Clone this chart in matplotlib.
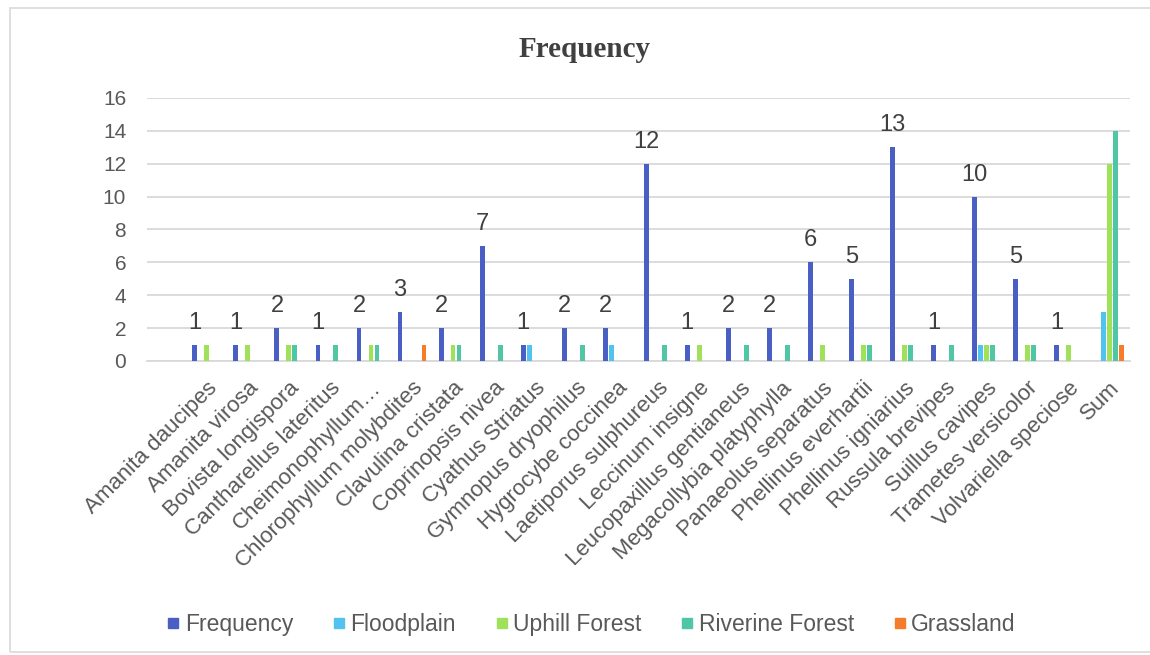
import numpy as np
import matplotlib

matplotlib.use("Agg")
import matplotlib.pyplot as plt
from matplotlib.lines import Line2D
from matplotlib.patches import Rectangle

# data
species = [
    "Amanita daucipes", "Amanita virosa", "Bovista longispora",
    "Cantharellus lateritus", "Cheimonophyllum\u2026", "Chlorophyllum molybdites",
    "Clavulina cristata", "Coprinopsis nivea", "Cyathus Striatus",
    "Gymnopus dryophilus", "Hygrocybe coccinea", "Laetiporus sulphureus",
    "Leccinum insigne", "Leucopaxillus gentianeus", "Megacollybia platyphylla",
    "Panaeolus separatus", "Phellinus everhartii", "Phellinus igniarius",
    "Russula brevipes", "Suillus cavipes", "Trametes versicolor",
    "Volvariella speciose", "Sum",
]
frequency = [1, 1, 2, 1, 2, 3, 2, 7, 1, 2, 2, 12, 1, 2, 2, 6, 5, 13, 1, 10, 5, 1, np.nan]
floodplain = [0, 0, 0, 0, 0, 0, 0, 0, 1, 0, 1, 0, 0, 0, 0, 0, 0, 0, 0, 1, 0, 0, 3]
uphill_forest = [1, 1, 1, 0, 1, 0, 1, 0, 0, 0, 0, 0, 1, 0, 0, 1, 1, 1, 0, 1, 1, 1, 12]
riverine_forest = [0, 0, 1, 1, 1, 0, 1, 1, 0, 1, 0, 1, 0, 1, 1, 0, 1, 1, 1, 1, 1, 0, 14]
grassland = [0, 0, 0, 0, 0, 1, 0, 0, 0, 0, 0, 0, 0, 0, 0, 0, 0, 0, 0, 0, 0, 0, 1]

series_names = ["Frequency", "Floodplain", "Uphill Forest", "Riverine Forest", "Grassland"]
series_colors = ["#4a5fc4", "#52c3ef", "#9fe25a", "#4fc6a4", "#f47c2a"]

plt.rcParams["font.family"] = ["Liberation Sans", "DejaVu Sans"]

fig = plt.figure(figsize=(11.5, 6.55), dpi=100)
ax = fig.add_axes([0.1278, 0.4489, 0.8548, 0.4015])

# light chart border
fig.patches.append(Rectangle((10 / 1150, 3 / 655), 1.0, 644 / 655, transform=fig.transFigure,
                             fill=False, edgecolor="#d9d9d9", linewidth=1.2))

x = np.arange(len(species))
step = 0.146
width = 0.12
all_series = [frequency, floodplain, uphill_forest, riverine_forest, grassland]
for k, (vals, color) in enumerate(zip(all_series, series_colors)):
    vals = np.array(vals, dtype=float)
    vals = np.where(vals == 0, np.nan, vals)
    ax.bar(x + (k - 2) * step, vals, width=width, color=color, zorder=3)

# data labels on the Frequency series
for xi, v in zip(x, frequency):
    if np.isnan(v):
        continue
    ax.annotate(str(int(v)), (xi - 2 * step, v), xytext=(0, 11.5), textcoords="offset points",
                ha="center", va="baseline", fontsize=17, color="#404040")

ax.set_xlim(-1.46, 22.5)
ax.set_ylim(0, 16)
ax.set_yticks(np.arange(0, 17, 2))
ax.set_xticks(x)
ax.set_xticklabels(species, rotation=45, ha="right", va="top", rotation_mode="anchor",
                   fontsize=16, color="#595959")
ax.tick_params(axis="y", labelsize=15, labelcolor="#595959", length=0, pad=15)
ax.tick_params(axis="x", length=0, pad=12)
ax.grid(axis="y", color="#d9d9d9", linewidth=1.3, zorder=0)
for side in ["top", "right", "left"]:
    ax.spines[side].set_visible(False)
ax.spines["bottom"].set_color("#d9d9d9")
ax.spines["bottom"].set_linewidth(1.3)

fig.text(0.508, 0.924, "Frequency", ha="center", va="center", fontsize=21,
         fontweight="bold", family="Liberation Serif", color="#404040")

handles = [Line2D([], [], marker="s", linestyle="none", markersize=7, color=c) for c in series_colors]
fig.legend(handles, series_names, loc="center", bbox_to_anchor=(0.513, 0.046), ncol=5,
           frameon=False, fontsize=16.5, handletextpad=0.1, columnspacing=1.6,
           labelcolor="#595959", handlelength=0.8)

fig.savefig("out.png", dpi=100)
